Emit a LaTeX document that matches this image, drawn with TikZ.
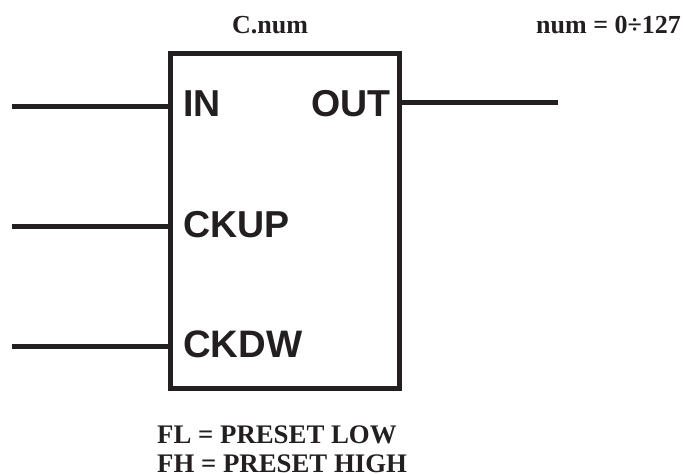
\documentclass[tikz,border=0pt]{standalone}
\usepackage{fontspec}
\setmainfont{Liberation Serif}
\setsansfont{Liberation Sans}
\definecolor{inkblack}{HTML}{231F20}
\tikzset{
    pin/.style={draw=inkblack, line width=5pt},
    pinlabel/.style={text=inkblack, font=\sffamily\bfseries\fontsize{37.5}{37.5}\selectfont, inner sep=0pt, anchor=base west},
    note/.style={text=inkblack, font=\bfseries\fontsize{26}{26}\selectfont, inner sep=0pt, anchor=base west},
    longnote/.style={note, font=\bfseries\fontsize{26.8}{26.8}\selectfont}
}
\begin{document}
\begin{tikzpicture}[x=1pt, y=-1pt]

            \useasboundingbox (0,0) rectangle (683,474);

            \node[draw=inkblack, line width=5pt, minimum width=229pt, minimum height=335pt, inner sep=0pt] (BOX) at (285,221) {};

            \coordinate (IN) at (168,106);
            \coordinate (CKUP) at (168,226.5);
            \coordinate (CKDW) at (168,346.5);
            \coordinate (OUT) at (402,102);
            \coordinate (E1) at (12,106);
            \coordinate (E2) at (12,226.5);
            \coordinate (E3) at (12,346.5);
            \coordinate (E4) at (558,102);

            \path[pin](E1) -- (IN);
            \path[pin](E2) -- (CKUP);
            \path[pin](E3) -- (CKDW);
            \path[pin](OUT) -- (E4);

            \node[pinlabel] (LIN) at (183,116) {IN};
            \node[pinlabel] (LOUT) at (311,116) {OUT};
            \node[pinlabel] (LCKUP) at (183,237) {CKUP};
            \node[pinlabel, font=\sffamily\bfseries\fontsize{38.3}{38.3}\selectfont] (LCKDW) at (183,357) {CKDW};

            \node[note] (CNUM) at (232,33) {C.num};
            \node[note] (NUM) at (536,33) {num = 0÷127};
            \node[longnote] (FL) at (157,443) {FL = PRESET LOW};
            \node[longnote] (FH) at (157,472) {FH = PRESET HIGH};
        \end{tikzpicture}
\end{document}
